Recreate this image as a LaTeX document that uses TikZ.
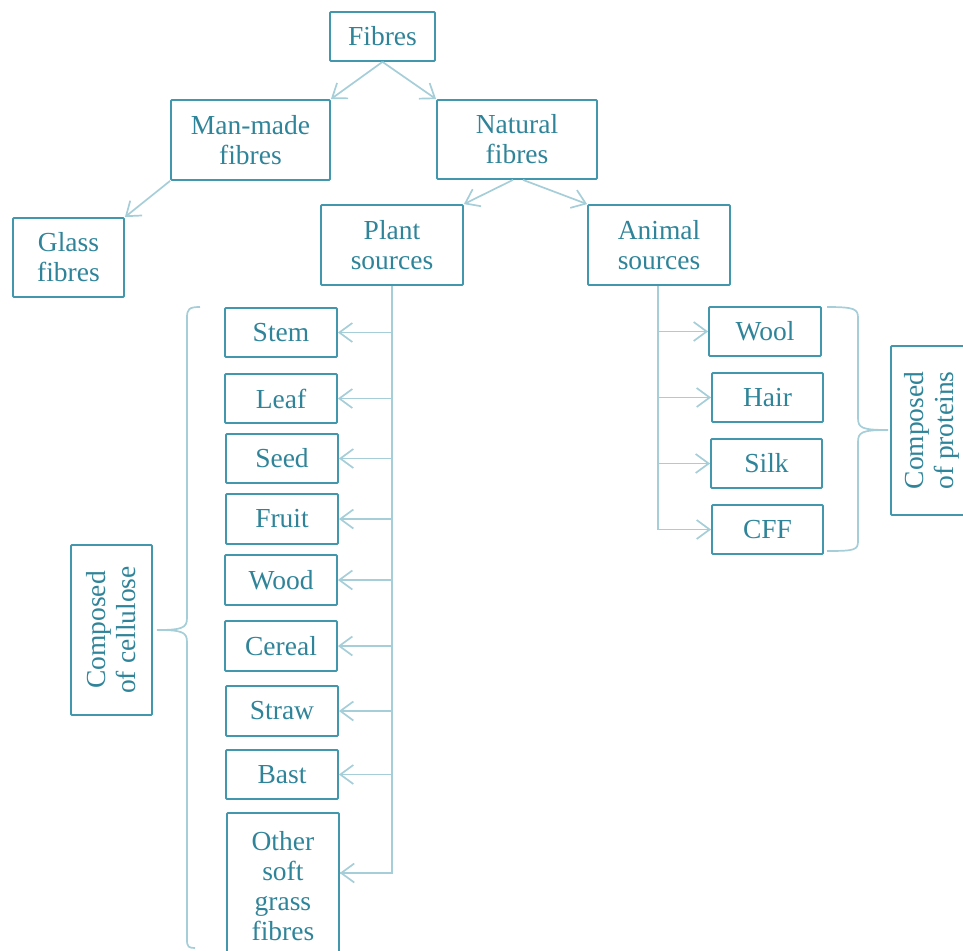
\documentclass[tikz,border=0pt]{standalone}
\usepackage{fontspec}
\setmainfont{Liberation Serif}
\usetikzlibrary{arrows.meta,calc}
\definecolor{txtteal}{HTML}{2F8499}
\definecolor{boxteal}{HTML}{4397AD}
\definecolor{linkteal}{HTML}{A6CED9}
\begin{document}
\begin{tikzpicture}[x=1pt,y=-1pt,
  box/.style={draw=boxteal, line width=1.8pt, rounded corners=1pt, text=txtteal,
    align=center, inner sep=0pt, font=\fontsize{27.5}{30}\selectfont},
  conn/.style={draw=linkteal, line width=1.7pt,
    -{Straight Barb[length=13pt,width=19pt,line width=1.7pt]}},
  trunk/.style={draw=linkteal, line width=1.7pt},
  brace/.style={draw=linkteal, line width=1.7pt}]
\useasboundingbox (0,0) rectangle (963,950);

% top levels
\node[box, minimum width=105, minimum height=49] (fib) at (382.5,36.5) {Fibres};
\node[box, minimum width=159, minimum height=80] (man) at (250.5,140) {Man-made\\fibres};
\node[box, minimum width=160, minimum height=79] (nat) at (517,139.5) {Natural\\fibres};
\node[box, minimum width=111, minimum height=79] (glass) at (68.5,257.5) {Glass\\fibres};
\node[box, minimum width=142, minimum height=80] (plant) at (392,245) {Plant\\sources};
\node[box, minimum width=142, minimum height=80] (animal) at (659,245) {Animal\\sources};

% plant fibres
\node[box, minimum width=112, minimum height=49] (stem) at (281,332.5) {Stem};
\node[box, minimum width=112, minimum height=49] (leaf) at (281,398.5) {Leaf};
\node[box, minimum width=112, minimum height=49] (seed) at (282,458.5) {Seed};
\node[box, minimum width=112, minimum height=50] (fruit) at (282,519) {Fruit};
\node[box, minimum width=112, minimum height=50] (wood) at (281,580) {Wood};
\node[box, minimum width=112, minimum height=50] (cereal) at (281,646) {Cereal};
\node[box, minimum width=112, minimum height=50] (straw) at (282,711) {Straw};
\node[box, minimum width=112, minimum height=49] (bast) at (282,774.5) {Bast};
\node[box, minimum width=112, minimum height=146, anchor=north west] (other) at (226,812)
  {Other\\soft\\grass\\fibres};
\node[box, rotate=90, minimum width=170, minimum height=81] (cell) at (111.5,630)
  {Composed\\of cellulose};

% animal fibres
\node[box, minimum width=112, minimum height=49] (wool) at (765,331.5) {Wool};
\node[box, minimum width=111, minimum height=49] (hair) at (767.5,397.5) {Hair};
\node[box, minimum width=111, minimum height=49] (silk) at (766.5,463.5) {Silk};
\node[box, minimum width=111, minimum height=49] (cff) at (767.5,529.5) {CFF};
\node[box, rotate=90, minimum width=169, minimum height=82] (prot) at (932,430.5)
  {Composed\\of proteins};

% upper connectors
\draw[conn] (fib.south) -- (man.north east);
\draw[conn] (fib.south) -- (nat.north west);
\draw[conn] (man.south west) -- (glass.north east);
\draw[conn] ([xshift=-4pt]nat.south) -- (plant.north east);
\draw[conn] ([xshift=6pt]nat.south) -- (animal.north west);

% plant trunk and branches
\coordinate (otherin) at ($(other.north east)+(0,61)$);
\draw[trunk] (plant.south) -- (plant.south |- otherin) -- (otherin);
\foreach \n in {stem,leaf,seed,fruit,wood,cereal,straw,bast}
  \draw[conn] (plant.south |- \n.east) -- (\n.east);
\draw[conn] (plant.south |- otherin) -- (otherin);

% animal trunk and branches
\coordinate (atop) at ([xshift=-1pt]animal.south);
\draw[trunk] (atop) -- (atop |- cff.west);
\foreach \n in {wool,hair,silk,cff}
  \draw[conn] (atop |- \n.west) -- (\n.west);

% cellulose brace
\draw[brace] (200,307) .. controls (189,307) and (187,309) .. (187,318)
  -- (187,618) .. controls (187,628) and (182,630) .. (157,630)
  (157,630) .. controls (182,630) and (187,632) .. (187,642)
  -- (187,940) .. controls (187,947) and (189,948) .. (195,948);

% proteins brace
\draw[brace] (827,307) .. controls (855,307) and (858,309) .. (858,318)
  -- (858,418) .. controls (858,428) and (862,430) .. (888,430)
  (888,430) .. controls (862,430) and (858,432) .. (858,442)
  -- (858,541) .. controls (858,550) and (855,551) .. (827,551);
\end{tikzpicture}
\end{document}
